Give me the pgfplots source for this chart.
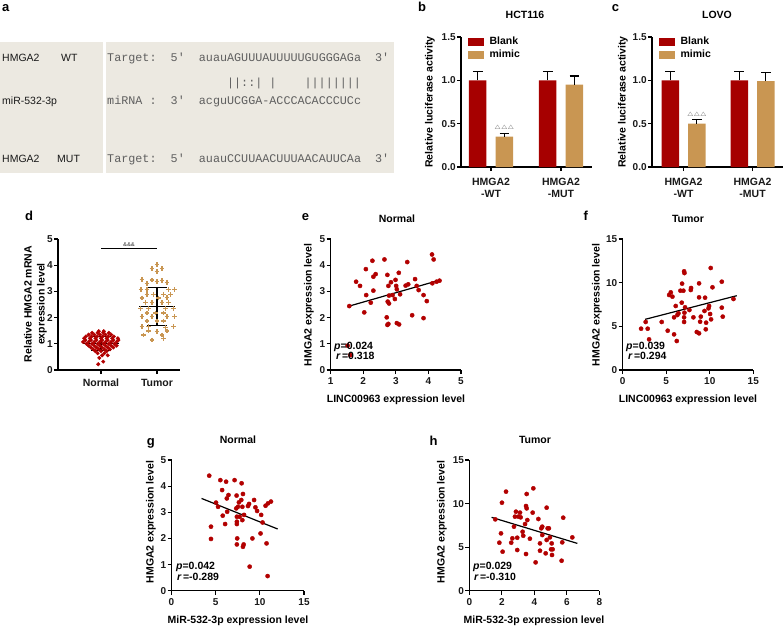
\documentclass[border=0pt]{standalone}
\usepackage{fontspec}
\setmainfont{Liberation Sans}
\setmonofont{Liberation Mono}
\usepackage{pgfplots}
\pgfplotsset{compat=1.18}

\definecolor{barred}{RGB}{166,0,0}
\definecolor{bargold}{RGB}{201,150,82}
\definecolor{dotred}{RGB}{178,0,0}
\definecolor{boxbg}{RGB}{236,233,225}
\definecolor{seqgray}{RGB}{95,95,95}
\definecolor{txt}{RGB}{25,25,25}

\newcommand{\lbl}{\fontsize{10.5}{13}\selectfont\bfseries}
\newcommand{\pl}{\fontsize{13}{14}\selectfont\bfseries}
\newcommand{\sq}{\fontsize{11.75}{12}\selectfont\ttfamily}

\pgfplotsset{
  myaxis/.style={
    scale only axis, anchor=south west,
    axis lines*=left,
    axis line style={line width=1.2pt, black},
    every tick/.style={line width=1.2pt, black},
    major tick length=4pt, tick align=outside,
    tick label style={font=\fontsize{10}{12}\selectfont\bfseries, text=txt},
    yticklabel style={inner sep=1.2pt},
    /pgf/number format/assume math mode=true,
    clip=false,
  },
  scat/.style={only marks, mark=*, mark size=2.1pt, mark options={draw=dotred, fill=dotred}},
  regline/.style={black, line width=1.2pt, no marks},
  bars/.style={myaxis, height=130pt, width=131pt, ymin=0, ymax=1.5,
    ytick={0,0.5,1,1.5},
    yticklabel style={/pgf/number format/.cd, fixed, fixed zerofill, precision=1},
    xtick={1,2}, xticklabels={{HMGA2\\-WT},{HMGA2\\-MUT}},
    xticklabel style={align=center, font=\fontsize{10.5}{12}\selectfont\bfseries, yshift=-4pt},
    legend style={at={(0.03,1.03)}, anchor=north west, draw=none, fill=none,
      font=\fontsize{10.5}{12}\selectfont\bfseries, row sep=-0.5pt},
    legend cell align=left},
  barb/.style={ybar, bar width=17.5pt, draw=none, forget plot},
  errb/.style={draw=none, no markers, forget plot,
    error bars/.cd, y dir=plus, y explicit,
    error bar style={line width=1.2pt, draw=black},
    error mark options={rotate=90, mark size=4.8pt, line width=1.2pt, draw=black}},
}

\begin{document}
\begin{tikzpicture}
\useasboundingbox (0pt,0pt) rectangle (784pt,-626pt);

% ---------------- panel a ----------------
\fill[boxbg] (0pt,-42pt) rectangle (394pt,-173pt);
\fill[white] (103pt,-42pt) rectangle (105.5pt,-173pt);
\node[anchor=base west, inner sep=0, font=\pl] at (2pt,-12pt) {a};
\begin{scope}[every node/.style={anchor=base west, inner sep=0, font=\fontsize{10.5}{12}\selectfont, text=txt}]
\node at (2pt,-62pt) {HMGA2};
\node at (61pt,-62pt) {WT};
\node at (2pt,-104pt) {miR-532-3p};
\node at (2pt,-162pt) {HMGA2};
\node at (57pt,-162pt) {MUT};
\end{scope}
\begin{scope}[every node/.style={anchor=base west, inner sep=0, font=\sq, text=seqgray}]
\node at (107pt,-62pt) {Target:};
\node at (170.5pt,-62pt) {5'};
\node at (198.7pt,-62pt) {auauAGUUUAUUUUUGUGGGAGa};
\node at (374.9pt,-62pt) {3'};
\node at (226.9pt,-86pt) {||::|};
\node at (269.2pt,-86pt) {|};
\node at (304.4pt,-86pt) {||||||||};
\node at (107pt,-104pt) {miRNA~:};
\node at (170.5pt,-104pt) {3'};
\node at (198.7pt,-104pt) {acguUCGGA-ACCCACACCCUCc};
\node at (107pt,-162pt) {Target:};
\node at (170.5pt,-162pt) {5'};
\node at (198.7pt,-162pt) {auauCCUUAACUUUAACAUUCAa};
\node at (374.9pt,-162pt) {3'};
\end{scope}

% ---------------- panel b ----------------
\node[anchor=base west, inner sep=0, font=\pl] at (418pt,-12pt) {b};
\node[font=\lbl, anchor=base] at (525pt,-19pt) {HCT116};
\node[font=\lbl, rotate=90] at (430pt,-102pt) {Relative luciferase activity};
\begin{axis}[bars, at={(461pt,-167pt)}, xmin=0.571, xmax=2.443]
\addlegendimage{legend image code/.code={\fill[barred] (0pt,-3.5pt) rectangle (15pt,3.5pt); \path (19pt,0pt);}}
\addlegendentry{Blank}
\addlegendimage{legend image code/.code={\fill[bargold] (0pt,-3.5pt) rectangle (15pt,3.5pt); \path (19pt,0pt);}}
\addlegendentry{mimic}
\addplot[barb, fill=barred, bar shift=-13.3pt] coordinates {(1,1.0) (2,1.0)};
\addplot[barb, fill=bargold, bar shift=13.3pt] coordinates {(1,0.35) (2,0.95)};
\addplot[errb] coordinates {(0.81,1.0) +- (0,0.10) (1.81,1.0) +- (0,0.10)
  (1.19,0.35) +- (0,0.04) (2.19,0.95) +- (0,0.10)};
\node[font=\fontsize{6}{6}\selectfont, text=seqgray] at (axis cs:1.19,0.445) {$\triangle\triangle\triangle$};
\end{axis}

% ---------------- panel c ----------------
\node[anchor=base west, inner sep=0, font=\pl] at (611.7pt,-12pt) {c};
\node[font=\lbl, anchor=base] at (717pt,-19pt) {LOVO};
\node[font=\lbl, rotate=90] at (623pt,-102pt) {Relative luciferase activity};
\begin{axis}[bars, at={(652pt,-167pt)}, xmin=0.543, xmax=2.441]
\addlegendimage{legend image code/.code={\fill[barred] (0pt,-3.5pt) rectangle (15pt,3.5pt); \path (19pt,0pt);}}
\addlegendentry{Blank}
\addlegendimage{legend image code/.code={\fill[bargold] (0pt,-3.5pt) rectangle (15pt,3.5pt); \path (19pt,0pt);}}
\addlegendentry{mimic}
\addplot[barb, fill=barred, bar shift=-13.3pt] coordinates {(1,1.0) (2,1.0)};
\addplot[barb, fill=bargold, bar shift=13.3pt] coordinates {(1,0.50) (2,0.99)};
\addplot[errb] coordinates {(0.807,1.0) +- (0,0.10) (1.807,1.0) +- (0,0.10)
  (1.193,0.50) +- (0,0.05) (2.193,0.99) +- (0,0.10)};
\node[font=\fontsize{6}{6}\selectfont, text=seqgray] at (axis cs:1.193,0.605) {$\triangle\triangle\triangle$};
\end{axis}

% ---------------- panel d ----------------
\node[anchor=base west, inner sep=0, font=\pl] at (25pt,-220pt) {d};
\node[font=\lbl, rotate=90, align=center] at (35.5pt,-304pt) {Relative HMGA2 mRNA\\expression level};
\begin{axis}[myaxis, at={(58pt,-370pt)}, width=122pt, height=131pt,
  xmin=0.232, xmax=2.411, ymin=0, ymax=5, ytick={0,1,2,3,4,5},
  xtick={1,2}, xticklabels={Normal,Tumor},
  xticklabel style={font=\fontsize{10.5}{12}\selectfont\bfseries, yshift=-1.5pt}]
\addplot[only marks, mark=*, mark size=1.8pt, mark options={draw=dotred, fill=dotred}] table {
x y
0.96 1.48
1.05 1.48
0.84 1.42
0.94 1.42
1.04 1.42
1.14 1.42
0.78 1.35
0.88 1.35
0.98 1.35
1.08 1.35
1.18 1.35
0.73 1.28
0.83 1.28
0.93 1.28
1.03 1.28
1.13 1.28
1.23 1.28
0.70 1.21
0.80 1.21
0.90 1.21
1.00 1.21
1.10 1.21
1.20 1.21
1.30 1.21
0.72 1.14
0.82 1.14
0.92 1.14
1.02 1.14
1.12 1.14
1.22 1.14
1.31 1.14
0.68 1.07
0.78 1.07
0.88 1.07
0.98 1.07
1.08 1.07
1.18 1.07
1.28 1.07
0.74 1.00
0.84 1.00
0.94 1.00
1.04 1.00
1.14 1.00
1.24 1.00
0.78 0.93
0.88 0.93
0.98 0.93
1.08 0.93
1.18 0.93
1.28 0.93
0.82 0.86
0.92 0.86
1.02 0.86
1.12 0.86
1.22 0.86
0.86 0.79
0.96 0.79
1.06 0.79
1.16 0.79
0.90 0.72
1.00 0.72
1.10 0.72
0.94 0.64
1.06 0.64
1.02 0.56
1.12 0.56
0.97 0.46
1.04 0.32
0.95 0.22
};
\addplot[only marks, mark=+, mark size=2.3pt, mark options={draw=bargold, line width=1.4pt}] table {
x y
2.000 4.03
1.911 3.88
2.089 3.88
2.000 3.75
1.732 3.46
1.911 3.43
2.089 3.41
1.821 3.30
2.000 3.37
2.179 3.35
1.714 3.08
1.821 3.08
2.208 3.08
2.310 3.08
1.821 2.89
1.940 2.89
2.119 2.89
2.238 2.89
1.732 2.75
2.030 2.75
2.179 2.77
1.792 2.57
1.911 2.57
2.089 2.57
2.208 2.57
1.702 2.35
1.851 2.35
2.149 2.35
2.298 2.35
1.821 2.18
1.970 2.18
2.119 2.18
1.732 2.04
1.911 2.04
2.179 2.04
2.310 2.04
1.821 1.87
2.000 1.87
2.119 1.87
1.732 1.65
1.851 1.65
2.149 1.63
2.298 1.65
1.851 1.49
2.000 1.47
2.179 1.49
1.762 1.34
2.089 1.34
2.119 1.21
1.911 1.15
};
\addplot[black, line width=1.3pt] coordinates {(0.68,1.00) (1.32,1.00)};
\addplot[black, line width=1.3pt] coordinates {(1,0.75) (1,1.29)};
\addplot[black, line width=1.3pt] coordinates {(0.83,1.29) (1.17,1.29)};
\addplot[black, line width=1.3pt] coordinates {(0.83,0.75) (1.17,0.75)};
\addplot[black, line width=1.3pt] coordinates {(1.68,2.42) (2.32,2.42)};
\addplot[black, line width=1.3pt] coordinates {(2,1.70) (2,3.15)};
\addplot[black, line width=1.3pt] coordinates {(1.83,3.15) (2.17,3.15)};
\addplot[black, line width=1.3pt] coordinates {(1.83,1.70) (2.17,1.70)};
\addplot[black, line width=0.9pt] coordinates {(1,4.64) (2,4.64)};
\node[font=\fontsize{5.5}{6}\selectfont\bfseries, text=seqgray, anchor=base] at (axis cs:1.5,4.72) {\&\&\&};
\end{axis}

% ---------------- panel e ----------------
\node[anchor=base west, inner sep=0, font=\pl] at (301.7pt,-220pt) {e};
\node[font=\lbl, anchor=base] at (397pt,-222pt) {Normal};
\node[font=\lbl, rotate=90] at (309pt,-305pt) {HMGA2 expression level};
\node[font=\lbl, anchor=base] at (396pt,-402pt) {LINC00963 expression level};
\begin{axis}[myaxis, at={(330.7pt,-370pt)}, width=130.3pt, height=131pt,
  xmin=1, xmax=5, ymin=0, ymax=5, xtick={1,2,3,4,5}, ytick={0,1,2,3,4,5}]
\addplot[scat] table {
x y
1.57 2.44
1.78 3.37
1.90 3.21
2.08 3.85
2.03 2.20
2.09 2.86
2.23 2.57
2.28 4.17
2.31 3.56
2.38 3.66
2.31 3.03
2.65 4.22
2.74 3.63
2.77 3.21
2.79 2.84
2.85 3.35
2.75 2.61
2.79 2.54
2.72 2.01
2.74 1.72
2.77 1.76
2.99 3.44
3.01 3.21
3.03 3.08
2.97 2.71
3.03 1.79
3.10 1.74
3.09 3.71
3.13 2.89
2.90 2.86
3.30 3.22
3.38 3.27
3.35 4.12
3.50 2.09
3.59 3.47
3.64 3.21
3.70 3.05
3.85 2.86
3.95 2.63
3.85 1.98
4.11 4.41
4.16 4.22
4.12 3.31
4.25 3.37
4.34 3.41
1.52 0.93
1.60 0.57
};
\addplot[regline] coordinates {(1.57,2.44) (4.32,3.42)};
\end{axis}
\node[font=\lbl, anchor=base west, inner sep=0] at (334pt,-349.5pt) {\itshape p\upshape =0.024};
\node[font=\lbl, anchor=base west, inner sep=0] at (336pt,-359.5pt) {\itshape r\upshape\,=0.318};

% ---------------- panel f ----------------
\node[anchor=base west, inner sep=0, font=\pl] at (583.3pt,-220pt) {f};
\node[font=\lbl, anchor=base] at (688pt,-222pt) {Tumor};
\node[font=\lbl, rotate=90] at (597pt,-305pt) {HMGA2 expression level};
\node[font=\lbl, anchor=base] at (688pt,-402pt) {LINC00963 expression level};
\begin{axis}[myaxis, at={(622.7pt,-370pt)}, width=130.6pt, height=131pt,
  xmin=0, xmax=15, ymin=0, ymax=15, xtick={0,5,10,15}, ytick={0,5,10,15}]
\addplot[scat] table {
x y
2.11 4.73
2.64 5.50
2.87 4.73
3.03 3.51
4.48 5.50
5.17 4.50
5.90 4.08
6.21 3.32
5.33 8.59
5.52 8.89
5.71 8.40
6.09 7.33
5.90 6.03
6.40 6.49
6.28 6.30
6.78 7.71
6.63 9.08
6.82 9.89
7.05 11.30
7.09 11.10
6.97 9.08
7.09 6.56
7.05 6.03
7.05 5.50
7.16 7.18
7.82 9.16
7.85 9.39
7.66 6.87
8.12 6.03
8.77 9.92
8.77 8.32
8.97 6.11
8.89 5.53
8.51 4.35
8.77 4.20
9.39 6.76
9.46 8.28
9.58 5.42
9.54 4.66
9.85 7.06
9.92 7.33
10.04 6.41
10.15 5.80
10.11 11.68
10.31 9.47
11.38 10.11
11.38 7.14
11.49 6.11
12.72 8.13
};
\addplot[regline] coordinates {(2.57,5.80) (13.1,8.51)};
\end{axis}
\node[font=\lbl, anchor=base west, inner sep=0] at (626pt,-349.5pt) {\itshape p\upshape =0.039};
\node[font=\lbl, anchor=base west, inner sep=0] at (628pt,-359.5pt) {\itshape r\upshape\,=0.294};

% ---------------- panel g ----------------
\node[anchor=base west, inner sep=0, font=\pl] at (146.7pt,-445pt) {g};
\node[font=\lbl, anchor=base] at (238pt,-443pt) {Normal};
\node[font=\lbl, rotate=90] at (151pt,-522pt) {HMGA2 expression level};
\node[font=\lbl, anchor=base] at (238pt,-623pt) {MiR-532-3p expression level};
\begin{axis}[myaxis, at={(171.5pt,-590.7pt)}, width=132.5pt, height=130.7pt,
  xmin=0, xmax=15, ymin=0, ymax=5, xtick={0,5,10,15}, ytick={0,1,2,3,4,5}]
\addplot[scat] table {
x y
4.27 4.40
4.47 2.45
4.47 1.98
5.04 3.37
5.27 3.21
5.53 4.23
5.73 3.85
5.80 2.87
6.07 2.55
6.18 4.17
6.26 3.53
6.45 3.66
6.30 3.02
7.14 4.23
7.37 3.64
7.33 3.15
7.40 2.83
7.40 2.64
7.40 2.55
7.44 2.00
7.40 1.77
7.52 3.21
7.63 3.38
7.71 2.83
7.90 3.47
7.94 4.11
8.02 3.21
8.09 3.70
8.02 2.70
8.09 1.68
8.17 1.77
8.21 2.90
8.66 3.24
8.78 3.32
8.85 0.92
9.16 2.00
9.35 3.47
9.50 3.19
9.69 3.05
10.08 2.19
10.15 2.90
10.31 2.61
10.65 3.25
10.76 1.81
10.92 3.34
11.26 3.41
10.88 0.56
};
\addplot[regline] coordinates {(3.40,3.53) (12.02,2.36)};
\end{axis}
\node[font=\lbl, anchor=base west, inner sep=0] at (176pt,-569pt) {\itshape p\upshape =0.042};
\node[font=\lbl, anchor=base west, inner sep=0] at (177pt,-580.5pt) {\itshape r\upshape\,=-0.289};

% ---------------- panel h ----------------
\node[anchor=base west, inner sep=0, font=\pl] at (429.3pt,-445pt) {h};
\node[font=\lbl, anchor=base] at (535pt,-443pt) {Tumor};
\node[font=\lbl, rotate=90] at (442pt,-522pt) {HMGA2 expression level};
\node[font=\lbl, anchor=base] at (534pt,-623pt) {MiR-532-3p expression level};
\begin{axis}[myaxis, at={(469.3pt,-590.7pt)}, width=130pt, height=130.7pt,
  xmin=0, xmax=8, ymin=0, ymax=15, xtick={0,2,4,6,8}, ytick={0,5,10,15}]
\addplot[scat] table {
x y
1.60 8.19
1.85 5.51
1.95 6.58
2.01 10.10
2.05 4.48
2.26 11.37
2.58 5.51
2.65 6.01
2.75 7.35
2.81 8.50
2.87 9.07
2.95 6.08
2.95 4.67
3.02 8.50
3.12 8.96
3.16 8.42
3.28 6.77
3.32 6.31
3.43 7.65
3.49 9.72
3.53 9.45
3.53 11.10
3.57 8.11
3.49 4.21
3.73 5.97
3.90 8.96
3.94 11.75
4.08 3.25
4.25 8.23
4.35 5.43
4.35 4.59
4.43 7.16
4.49 7.35
4.49 6.39
4.70 4.29
4.76 9.53
4.76 5.82
4.82 7.16
4.90 7.16
4.96 6.12
5.03 4.75
5.07 5.43
5.13 4.75
5.09 4.10
5.68 3.44
5.72 5.55
5.78 8.38
6.34 6.12
};
\addplot[regline] coordinates {(1.37,8.42) (6.65,5.43)};
\end{axis}
\node[font=\lbl, anchor=base west, inner sep=0] at (473pt,-569pt) {\itshape p\upshape =0.029};
\node[font=\lbl, anchor=base west, inner sep=0] at (474pt,-580.5pt) {\itshape r\upshape\,=-0.310};

\end{tikzpicture}
\end{document}
